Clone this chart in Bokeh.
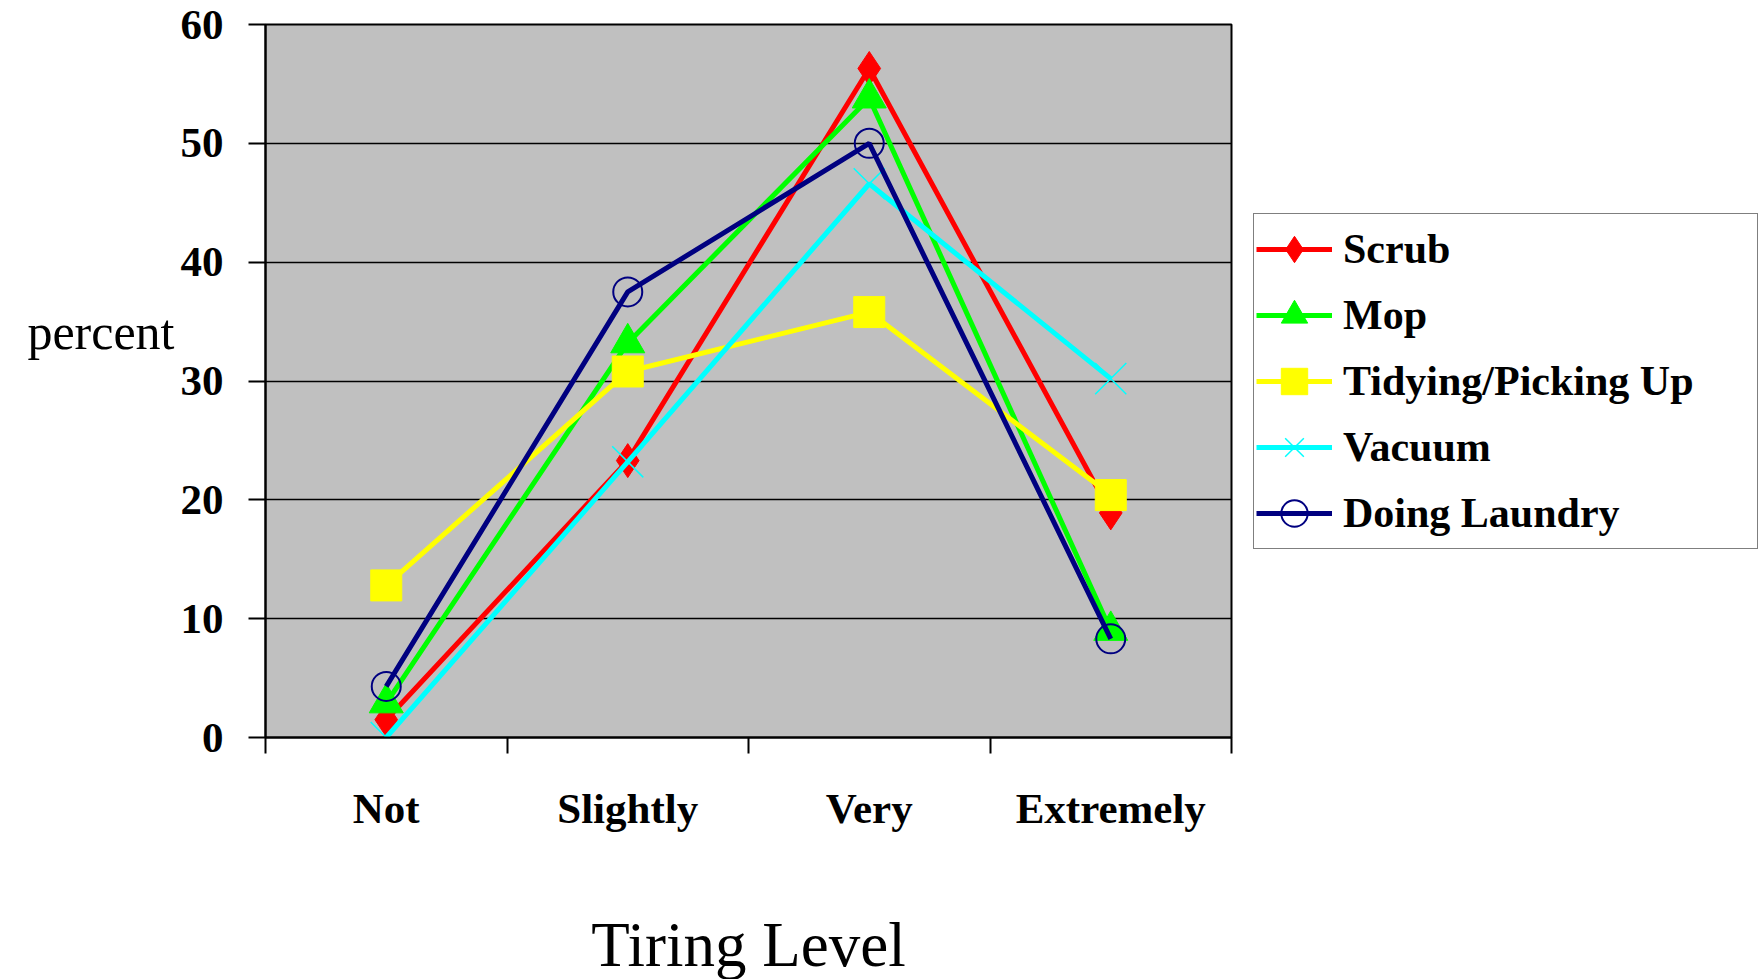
import math
from bokeh.plotting import figure
from bokeh.models import Range1d, FixedTicker, Legend, LegendItem
from bokeh.embed import file_html
from bokeh.resources import INLINE

categories = ["Not", "Slightly", "Very", "Extremely"]
scrub = [1.5, 23.3, 56.3, 18.9]
mop = [2.9, 33.2, 53.8, 9.0]
tidying = [12.8, 30.8, 35.8, 20.4]
vacuum = [0.0, 23.2, 46.6, 30.2]
laundry = [4.3, 37.5, 50.0, 8.3]
y_ticks = [0, 10, 20, 30, 40, 50, 60]

x = [i + 0.5 for i in range(len(categories))]
bounds = [i for i in range(len(categories) + 1)]

FONT = "Liberation Serif"

p = figure(width=1759, height=979, frame_width=966, frame_height=713,
           x_range=Range1d(0, len(categories)), y_range=Range1d(0, 60),
           output_backend="svg", toolbar_location=None,
           min_border_left=265, min_border_right=0, min_border_top=24, min_border_bottom=242)
p.background_fill_color = "#C0C0C0"
p.border_fill_color = "white"
p.outline_line_color = "black"
p.outline_line_width = 2

xax = p.xaxis[0]
xax.ticker = FixedTicker(ticks=x, minor_ticks=bounds)
xax.major_label_overrides = {xi: c for xi, c in zip(x, categories)}
xax.major_tick_out = 0
xax.major_tick_in = 0
xax.minor_tick_out = 16
xax.minor_tick_in = 0
xax.minor_tick_line_color = "black"
xax.minor_tick_line_width = 2
xax.axis_line_color = "black"
xax.axis_line_width = 2
xax.major_label_text_font = FONT
xax.major_label_text_font_style = "bold"
xax.major_label_text_font_size = "43px"
xax.major_label_text_color = "black"
xax.major_label_standoff = 31
xax.axis_label = "Tiring Level"
xax.axis_label_text_font = FONT
xax.axis_label_text_font_style = "normal"
xax.axis_label_text_font_size = "63px"
xax.axis_label_text_color = "black"
xax.axis_label_standoff = 75

yax = p.yaxis[0]
yax.ticker = FixedTicker(ticks=y_ticks)
yax.major_tick_out = 17
yax.major_tick_in = 0
yax.major_tick_line_color = "black"
yax.major_tick_line_width = 2
yax.minor_tick_line_color = None
yax.axis_line_color = "black"
yax.axis_line_width = 2
yax.major_label_text_font = FONT
yax.major_label_text_font_style = "bold"
yax.major_label_text_font_size = "43px"
yax.major_label_text_color = "black"
yax.major_label_standoff = 25
yax.axis_label = "percent\n"
yax.axis_label_orientation = "horizontal"
yax.axis_label_text_font = FONT
yax.axis_label_text_font_style = "normal"
yax.axis_label_text_font_size = "50px"
yax.axis_label_text_line_height = 1.75
yax.axis_label_text_color = "black"
yax.axis_label_standoff = 3

p.xgrid.visible = False
p.ygrid.grid_line_color = "black"
p.ygrid.grid_line_width = 1.5
p.ygrid.grid_line_alpha = 1

series = [
    ("Scrub", scrub, "#FF0000", dict(marker="diamond", size=34, fill_color="#FF0000", line_color="#FF0000")),
    ("Mop", mop, "#00FF00", dict(marker="triangle", size=34, fill_color="#00FF00", line_color="#00FF00")),
    ("Tidying/Picking Up", tidying, "#FFFF00", dict(marker="square", size=31, fill_color="#FFFF00", line_color="#FFFF00")),
    ("Vacuum", vacuum, "#00FFFF", dict(marker="x", size=44, line_color="#00FFFF", line_width=1.5)),
    ("Doing Laundry", laundry, "#000080", dict(marker="circle", size=29, fill_color=None, line_color="#000080", line_width=2)),
]

items = []
for name, vals, col, mk in series:
    ln = p.line(x, vals, line_color=col, line_width=5)
    sc = p.scatter(x, vals, **mk)
    items.append(LegendItem(label=name, renderers=[ln, sc]))

legend = Legend(items=items, location="left")
legend.label_text_font = FONT
legend.label_text_font_style = "bold"
legend.label_text_font_size = "42px"
legend.label_text_color = "black"
legend.glyph_width = 76
legend.glyph_height = 66
legend.label_height = 66
legend.label_width = 412
legend.label_standoff = 11
legend.padding = 2
legend.spacing = 0
legend.margin = 22
legend.border_line_color = "black"
legend.border_line_width = 1.5
legend.background_fill_color = "white"
legend.background_fill_alpha = 1
p.add_layout(legend, "right")

open("out.html", "w").write(file_html(p, INLINE))
